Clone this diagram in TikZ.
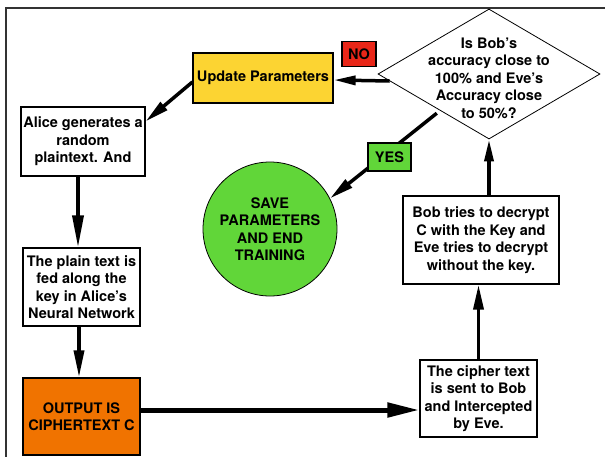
\documentclass[tikz,border=0pt]{standalone}
\usepackage{fontspec}
\setmainfont{TeX Gyre Heros}
\usetikzlibrary{shapes.geometric,arrows.meta}
\definecolor{cyel}{RGB}{252,212,50}
\definecolor{cred}{RGB}{233,38,24}
\definecolor{cgreen}{RGB}{97,214,57}
\definecolor{corange}{RGB}{240,115,0}
\begin{document}
\begin{tikzpicture}[x=1pt,y=-1pt,
  font=\bfseries\fontsize{14.5}{17.5}\selectfont,
  box/.style={draw, line width=1.2pt, align=center, inner sep=0pt},
  arr/.style={line width=3.5pt, -{Triangle[length=24pt,width=10pt]}},
  bigarr/.style={line width=5pt, -{Triangle[length=32pt,width=14pt]}}]
\useasboundingbox (0,0) rectangle (605,456);
\draw[line width=1.2pt, black!80] (6,470) -- (6,8) -- (612,8);

\node[box, fill=cyel, minimum width=140, minimum height=50] (upd) at (263,78) {Update Parameters};
\node[box, fill=cred, minimum width=34, minimum height=25] (no) at (359,54) {NO};
\node[diamond, draw, line width=0.8pt, minimum width=222, minimum height=130, inner sep=0pt] (dec) at (489,74) {};
\node[align=center, inner sep=0pt] (dectext) at (489,78) {Is Bob’s\\accuracy close to\\100\% and Eve’s\\Accuracy close\\to 50\%?};
\node[box, minimum width=124, minimum height=69] (alice) at (83,141.5) {Alice generates a\\random\\plaintext. And};
\node[box, minimum width=117, minimum height=78] (plain) at (81.5,287) {The plain text is\\fed along the\\key in Alice’s\\Neural Network};
\node[box, fill=corange, minimum width=117, minimum height=77] (out) at (81.5,416.5) {OUTPUT IS\\CIPHERTEXT C};
\node[box, minimum width=117, minimum height=77] (cipher) at (478.5,398.5) {The cipher text\\is sent to Bob\\and Intercepted\\by Eve.};
\node[box, minimum width=156, minimum height=88] (bob) at (481,240) {Bob tries to decrypt\\C with the Key and\\Eve tries to decrypt\\without the key.};
\node[circle, draw, line width=0.8pt, fill=cgreen, minimum size=134, align=center, inner sep=0pt] (save) at (270,229) {SAVE\\PARAMETERS\\AND END\\TRAINING};

\draw[arr, -{Triangle[length=22pt,width=9pt]}] ([xshift=12pt,yshift=-7pt]dec.west) -- ([yshift=-2pt]upd.east);
\draw[arr] ([yshift=-4pt]upd.west) -- ([yshift=-15pt]alice.north east);
\draw[arr, -{Triangle[length=32pt,width=11pt]}] ([xshift=-5pt]alice.south) -- ([xshift=-3.5pt]plain.north);
\draw[arr, -{Triangle[length=27pt,width=10pt]}] ([xshift=-2.5pt]plain.south) -- ([xshift=-2.5pt]out.north);
\draw[bigarr] ([yshift=6.5pt]out.east) -- ([yshift=-11.5pt]cipher.west);
\draw[arr, -{Triangle[length=25pt,width=10pt]}] (cipher.north) -- (cipher.north |- bob.south);
\draw[arr, -{Triangle[length=22pt,width=9pt]}] (dec.south |- bob.north) -- (dec.south);
\draw[arr, -{Triangle[length=24pt,width=10pt]}] ([xshift=3.5pt,yshift=-6.5pt]dec.south west) -- (save.27);

\node[box, fill=cgreen, minimum width=43, minimum height=28] (yes) at (389.5,157) {YES};
\end{tikzpicture}
\end{document}
